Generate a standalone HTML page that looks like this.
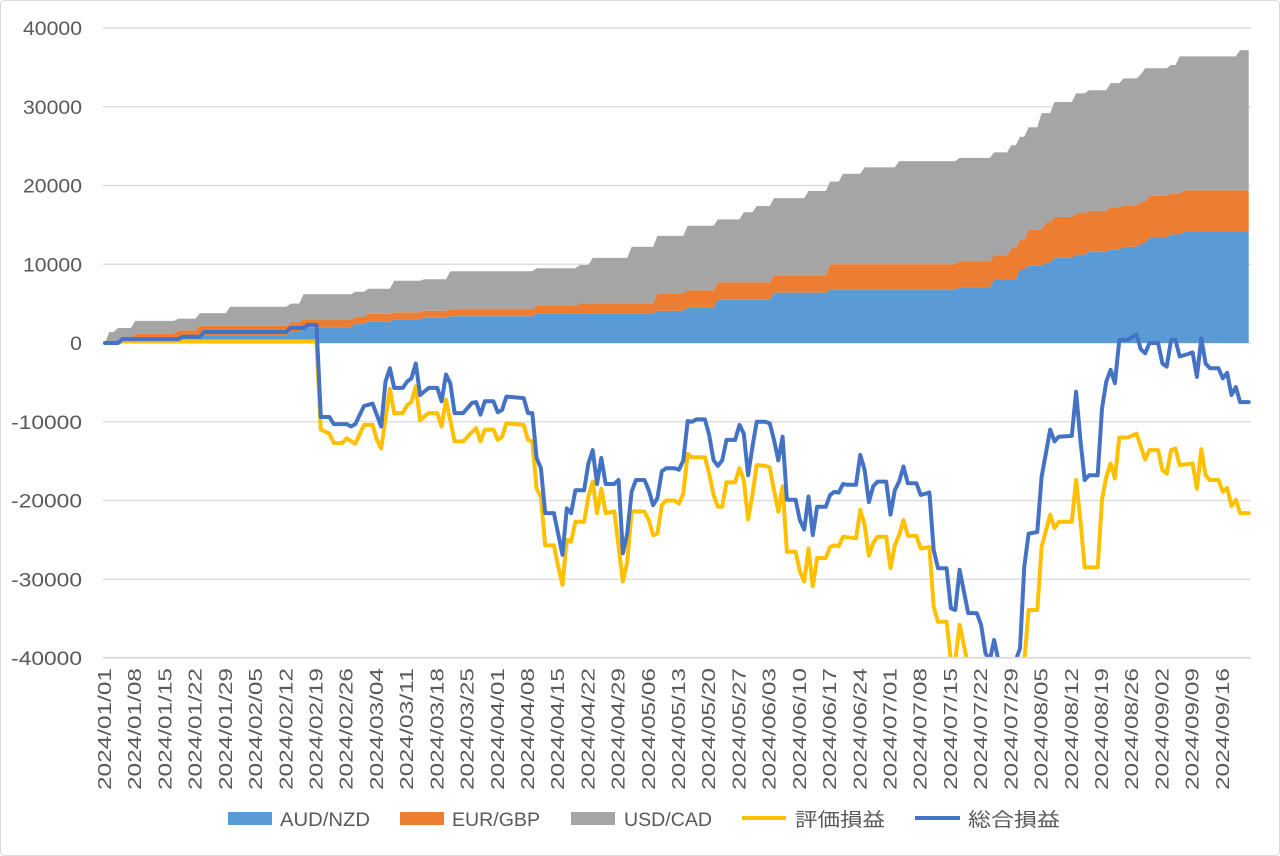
<!DOCTYPE html>
<html><head><meta charset="utf-8">
<style>
html,body{margin:0;padding:0;background:#fff;}
svg{display:block;font-family:"Liberation Sans","Noto Sans CJK JP",sans-serif;}
</style></head>
<body>
<svg id="chart" width="1280" height="856" viewBox="0 0 1280 856" xmlns="http://www.w3.org/2000/svg">
<rect x="0.5" y="0.5" width="1279" height="855" rx="4" fill="#fff" stroke="#d9d9d9"/>
<defs><clipPath id="plotClip"><rect x="100" y="26" width="1160" height="632"/></clipPath></defs>
<g id="grid"></g>
<g id="areas"></g>
<g id="lines" clip-path="url(#plotClip)"></g>
<g id="yaxis"></g>
<g id="xaxis"></g>
<g id="legend">
  <rect x="228" y="812" width="44" height="13" fill="#5B9BD5"/>
  <text x="280" y="826" font-size="19" textLength="90" lengthAdjust="spacingAndGlyphs" fill="#595959">AUD/NZD</text>
  <rect x="400" y="812" width="44" height="13" fill="#ED7D31"/>
  <text x="452" y="826" font-size="19" textLength="88" lengthAdjust="spacingAndGlyphs" fill="#595959">EUR/GBP</text>
  <rect x="571" y="812" width="44" height="13" fill="#A5A5A5"/>
  <text x="624" y="826" font-size="19" textLength="88" lengthAdjust="spacingAndGlyphs" fill="#595959">USD/CAD</text>
  <line x1="742" y1="818" x2="786" y2="818" stroke="#FFC000" stroke-width="4"/>
  <text x="795" y="826" font-size="19" textLength="90" lengthAdjust="spacingAndGlyphs" fill="#595959">評価損益</text>
  <line x1="915" y1="818" x2="960" y2="818" stroke="#4472C4" stroke-width="4"/>
  <text x="968" y="826" font-size="19" textLength="92" lengthAdjust="spacingAndGlyphs" fill="#595959">総合損益</text>
</g>
</svg>
<script>
// ---- data ----
const yTicks = [40000,30000,20000,10000,0,-10000,-20000,-30000,-40000];
const yTickLabels = ["40000","30000","20000","10000","0","-10000","-20000","-30000","-40000"];
const xTickLabels = ["2024/01/01","2024/01/08","2024/01/15","2024/01/22","2024/01/29","2024/02/05","2024/02/12","2024/02/19","2024/02/26","2024/03/04","2024/03/11","2024/03/18","2024/03/25","2024/04/01","2024/04/08","2024/04/15","2024/04/22","2024/04/29","2024/05/06","2024/05/13","2024/05/20","2024/05/27","2024/06/03","2024/06/10","2024/06/17","2024/06/24","2024/07/01","2024/07/08","2024/07/15","2024/07/22","2024/07/29","2024/08/05","2024/08/12","2024/08/19","2024/08/26","2024/09/02","2024/09/09","2024/09/16"];
const lastDay = 265;
// stacked series: change days (day offset from 2024/01/01) and value held from that day
const stackDays = [0,1,3,4,7,17,22,29,43,46,58,61,67,74,80,100,110,113,122,128,135,142,148,151,155,163,168,171,176,184,198,206,210,212,214,217,218,220,225,228,233,236,240,241,242,247,249,250,263];
const audNzd = [0,0,0,400,400,700,1000,1000,1400,2000,2400,2700,3000,3200,3400,3800,3800,3800,3800,4100,4500,5500,5500,5500,6400,6400,6800,6800,6800,6800,7100,8000,8000,9400,9800,9800,10200,10800,11200,11600,11900,12200,12700,12700,13400,13800,13800,14100,14100];
const eurGbp = [0,0,0,0,800,900,1200,1200,1200,1000,900,1000,900,900,900,900,1200,1200,1200,2200,2200,2200,2200,2200,2200,2200,3200,3200,3200,3200,3300,3100,4000,3700,4600,4600,5100,5200,5300,5200,5300,5300,5200,5200,5300,5200,5200,5300,5300];
const usdCad = [0,1400,1900,1500,1600,1500,1600,2400,2400,3200,3200,3200,4000,4000,4800,4800,4900,5800,7200,7300,8200,8000,8900,9700,9800,10700,10500,11500,12300,13100,13100,13100,13100,13100,13000,14800,13900,14600,15200,15300,15800,16100,16200,17000,16200,16300,17400,17000,17800];
// 評価損益
const valDays = [0,3,4,49,50,52,53,55,56,58,60,62,63,64,66,67,69,70,71,72,73,75,77,78,79,81,83,85,86,87,88,90,91,92,93,97,98,99,100,101,102,104,105,106,107,108,109,111,112,113,114,115,116,118,120,121,122,125,126,127,128,129,130,132,133,134,135,136,139,140,141,142,143,144,146,147,148,149,150,151,153,154,155,156,157,158,160,161,162,163,164,165,167,168,169,170,171,174,175,176,177,178,179,181,182,183,184,185,186,188,189,191,192,193,195,196,197,198,200,212,213,214,216,217,219,220,221,224,225,226,227,230,231,232,233,234,235,237,239,241,242,244,245,246,247,248,249,252,253,254,255,256,258,259,260,261,262,263,265];
const valuation = [0,0,200,200,-11000,-11500,-12700,-12700,-12100,-12800,-10400,-10400,-12300,-13400,-5800,-8900,-8900,-7900,-7500,-5500,-9800,-8900,-8900,-10600,-7200,-12500,-12500,-11300,-10800,-12500,-11000,-11000,-12300,-11900,-10200,-10400,-12300,-12500,-18500,-19500,-25700,-25700,-28400,-30700,-25000,-25200,-22700,-22700,-19500,-17600,-21600,-18500,-21600,-21400,-30300,-27800,-21400,-21400,-22500,-24400,-24200,-20600,-20000,-20000,-20400,-19100,-14100,-14500,-14500,-16600,-19300,-20800,-20800,-17700,-17700,-15900,-17400,-22400,-19300,-15500,-15600,-15800,-18700,-21400,-18200,-26500,-26500,-29000,-30300,-26100,-30900,-27300,-27300,-25900,-25700,-25800,-24600,-24800,-21200,-23100,-27000,-25400,-24600,-24600,-28600,-25700,-24400,-22500,-24500,-24500,-26100,-25900,-33500,-35400,-35400,-40300,-40300,-35800,-41000,-42000,-40500,-33900,-33900,-25900,-21800,-23500,-22700,-22700,-17400,-22500,-28500,-28500,-19900,-17000,-15300,-17200,-12000,-12000,-11500,-14800,-13600,-13600,-16100,-16600,-13600,-13400,-15500,-15300,-18500,-13500,-16800,-17400,-17400,-18900,-18400,-20700,-19900,-21600,-21600];
// 総合損益
const totDays = [0,3,4,17,18,22,23,42,43,46,47,49,50,52,53,56,57,58,60,62,64,65,66,67,69,70,71,72,73,75,77,78,79,80,81,83,85,86,87,88,90,91,92,93,97,98,99,100,101,102,104,106,107,108,109,111,112,113,114,115,116,118,119,120,121,122,123,125,126,127,128,129,130,132,133,134,135,136,137,139,140,141,142,143,144,146,147,148,149,150,151,153,154,155,156,157,158,160,161,162,163,164,165,167,168,169,170,171,172,174,175,176,177,178,179,181,182,183,184,185,186,188,189,191,192,193,195,196,197,198,200,202,203,204,205,206,207,209,211,212,213,214,216,217,219,220,221,224,225,226,227,228,230,231,232,233,234,235,237,239,240,241,242,244,245,246,247,248,249,251,252,253,254,255,256,258,259,260,261,262,263,265];
const total = [0,0,500,500,800,800,1400,1400,1900,1900,2300,2300,-9400,-9400,-10300,-10300,-10600,-10300,-8000,-7700,-10600,-4900,-3200,-5700,-5700,-4900,-4500,-2600,-6600,-5700,-5700,-7400,-4000,-5100,-8900,-8900,-7600,-7500,-9100,-7400,-7400,-8800,-8500,-6800,-7000,-8900,-8900,-14600,-15900,-21600,-21600,-26900,-21000,-21600,-18700,-18700,-15300,-13600,-17900,-14600,-17900,-17900,-17400,-26700,-24200,-18900,-17400,-17400,-18700,-20600,-19700,-16300,-15900,-15900,-16100,-14900,-9900,-10000,-9700,-9700,-11700,-14900,-15600,-14900,-12300,-12300,-10400,-11500,-16800,-13200,-10000,-10000,-10200,-12300,-14900,-11900,-19900,-19900,-22500,-23700,-19500,-24400,-20800,-20800,-19300,-18900,-19000,-17900,-18000,-18000,-14200,-16100,-20200,-18200,-17600,-17600,-21800,-18700,-17600,-15700,-17800,-17800,-19300,-19000,-26300,-28600,-28600,-33700,-33900,-28800,-34300,-34300,-35800,-39400,-40300,-37700,-40300,-40600,-40300,-38800,-28400,-24200,-24000,-17000,-11000,-12500,-11900,-11800,-6200,-12300,-17400,-16800,-16800,-8300,-4900,-3400,-5100,400,400,1100,-800,-1300,0,0,-2600,-3000,400,400,-1700,-1400,-1200,-4300,600,-2600,-3200,-3200,-4500,-3800,-6600,-5600,-7500,-7500];

// ---- axes ----
const X0 = 105, PX_PER_DAY = 4.316, Y0 = 343, PX_PER_UNIT = 315/40000;
function xs(d){ return X0 + d*PX_PER_DAY; }
function ys(v){ return Y0 - v*PX_PER_UNIT; }
const NS = "http://www.w3.org/2000/svg";
function mk(tag, attrs, parent){ const e=document.createElementNS(NS,tag); for(const k in attrs) e.setAttribute(k,attrs[k]); parent.appendChild(e); return e; }

const grid = document.getElementById('grid');
const yaxis = document.getElementById('yaxis');
yTicks.forEach((v,i)=>{
  const gl = mk('line',{x1:103,x2:1251,y1:ys(v),y2:ys(v),stroke:'#d9d9d9','stroke-width':1.3},grid);
  
  
  const lab = yTickLabels[i];
  const t = mk('text',{x:82,y:ys(v)+7,'text-anchor':'end','font-size':19,fill:'#595959',textLength:(lab.length*11.8).toFixed(1),lengthAdjust:'spacingAndGlyphs'},yaxis);
  t.textContent = lab;
  
  
});
const xaxis = document.getElementById('xaxis');
const axl = mk('line',{x1:103,x2:1251,y1:657.5,y2:657.5,stroke:'#d9d9d9','stroke-width':1.3},xaxis);


xTickLabels.forEach((s,i)=>{
  const x = xs(i*7)+6;
  const t = mk('text',{x:x,y:668,'text-anchor':'end','font-size':18,fill:'#595959',textLength:122,lengthAdjust:'spacingAndGlyphs',transform:`rotate(-90 ${x} 668)`},xaxis);
  t.textContent = s;
  
  
});

// ---- stacked areas ----
function daily(days, vals){ const out=[]; let j=0; for(let d=0; d<=lastDay; d++){ while(j+1<days.length && days[j+1]<=d) j++; out.push(vals[j]); } return out; }
const aD = daily(stackDays,audNzd), eD = daily(stackDays,eurGbp), uD = daily(stackDays,usdCad);
const areas = document.getElementById('areas');
function areaPath(top, bottom){
  let p = '';
  for(let d=0; d<=lastDay; d++) p += (d?'L':'M')+xs(d).toFixed(1)+','+ys(top[d]).toFixed(1);
  for(let d=lastDay; d>=0; d--) p += 'L'+xs(d).toFixed(1)+','+ys(bottom[d]).toFixed(1);
  return p+'Z';
}
const zero = aD.map(()=>0);
const cumA = aD, cumE = aD.map((v,i)=>v+eD[i]), cumU = cumE.map((v,i)=>v+uD[i]);
const pA = mk('path',{d:areaPath(cumA,zero),fill:'#5B9BD5'},areas);


const pE = mk('path',{d:areaPath(cumE,cumA),fill:'#ED7D31'},areas);


const pU = mk('path',{d:areaPath(cumU,cumE),fill:'#A5A5A5'},areas);



// ---- lines ----
const lines = document.getElementById('lines');
function linePath(days, vals){ return days.map((d,i)=>(i?'L':'M')+xs(d).toFixed(1)+','+ys(vals[i]).toFixed(1)).join(''); }
const lv = mk('path',{d:linePath(valDays,valuation),fill:'none',stroke:'#FFC000','stroke-width':4,'stroke-linejoin':'round','stroke-linecap':'round'},lines);


const lt = mk('path',{d:linePath(totDays,total),fill:'none',stroke:'#4472C4','stroke-width':4,'stroke-linejoin':'round','stroke-linecap':'round'},lines);


</script>
</body></html>
